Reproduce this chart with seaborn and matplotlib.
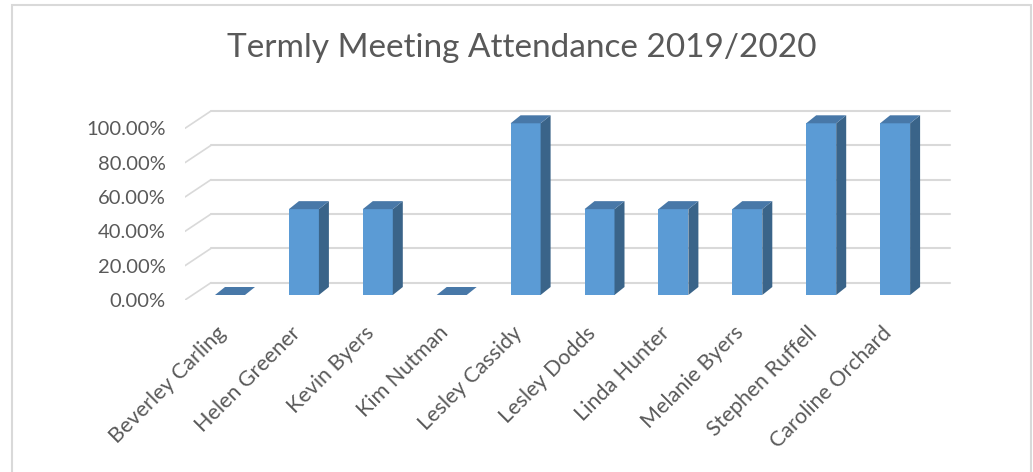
import matplotlib
matplotlib.use('Agg')
from matplotlib import pyplot as plt
from matplotlib.patches import Polygon, Rectangle
from matplotlib.transforms import ScaledTranslation
import seaborn as sns

# %% Data
names = ['Beverley Carling', 'Helen Greener', 'Kevin Byers', 'Kim Nutman',
         'Lesley Cassidy', 'Lesley Dodds', 'Linda Hunter', 'Melanie Byers',
         'Stephen Ruffell', 'Caroline Orchard']
attendance = [0.0, 0.5, 0.5, 0.0, 1.0, 0.5, 0.5, 0.5, 1.0, 1.0]
y_ticks = [0.0, 0.2, 0.4, 0.6, 0.8, 1.0]

# %% Style
sns.set_style('white')
plt.rcParams['font.family'] = ['Lato', 'DejaVu Sans']
TEXT = '#595959'
GRID = '#d9d9d9'
FRONT = '#5b9bd5'
SIDE = '#3a6489'
TOP = '#4878a8'

W, H = 1033, 472
fig = plt.figure(figsize=(W / 100, H / 100), dpi=100)

# axes placed in pixels: front-left corner of the floor at x=185, y=300
ax_l, ax_r, ax_t, ax_b = 185, 955, 105, 300
ax = fig.add_axes([ax_l / W, 1 - ax_b / H, (ax_r - ax_l) / W, (ax_b - ax_t) / H])

# pixel -> data scales
px_x = 1 / 73.9
px_y = 1 / 171.7
x0 = -(230 - ax_l) * px_x
y0 = -(ax_b - 295) * px_y

# %% Bars (seaborn resets limits, so set them afterwards)
sns.barplot(x=names, y=attendance, color=FRONT, saturation=1, width=30 * px_x,
            ax=ax, zorder=3, edgecolor='none')
dx, dy = 10 * px_x, 8 * px_y
for p in list(ax.patches):
    x, w, h = p.get_x(), p.get_width(), p.get_height()
    side = [(x + w, 0), (x + w + dx, dy), (x + w + dx, h + dy), (x + w, h)]
    top = [(x, h), (x + w, h), (x + w + dx, h + dy), (x + dx, h + dy)]
    ax.add_patch(Polygon(side, closed=True, facecolor=SIDE, edgecolor='none', zorder=3))
    ax.add_patch(Polygon(top, closed=True, facecolor=TOP, edgecolor='none', zorder=3))

ax.set_xlim(x0, x0 + (ax_r - ax_l) * px_x)
ax.set_ylim(y0, y0 + (ax_b - ax_t) * px_y)

# %% Back wall gridlines + floor diagonals
back_dx, back_dy = 26 * px_x, 17.3 * px_y
back_right = (950 - 230) * px_x
for v in y_ticks:
    ax.plot([x0, x0 + back_dx], [y0 + v, y0 + v + back_dy], color=GRID, lw=1.2, zorder=1)
    ax.plot([x0 + back_dx, back_right], [y0 + v + back_dy] * 2, color=GRID, lw=1.5, zorder=1)

# %% Axes text
ax.set_yticks([y0 + v for v in y_ticks], [f'{v * 100:.2f}%' for v in y_ticks])
ax.tick_params(axis='y', length=0, pad=14, labelsize=14.5, labelcolor=TEXT)
ax.set_xticks(range(len(names)), names)
ax.tick_params(axis='x', length=0, pad=2, labelsize=15.5, labelcolor=TEXT)
for lbl in ax.get_xticklabels():
    lbl.set_rotation(45)
    lbl.set_ha('right')
    lbl.set_va('center')
    lbl.set_rotation_mode('anchor')
    lbl.set_transform(lbl.get_transform() + ScaledTranslation(-0.07, -0.27, fig.dpi_scale_trans))
ax.set_xlabel('')
ax.set_ylabel('')
sns.despine(ax=ax, left=True, bottom=True)

fig.text(522 / W, 1 - 48 / H, 'Termly Meeting Attendance 2019/2020', ha='center',
         va='center', fontsize=24, color=TEXT)

# chart border
fig.add_artist(Rectangle((11.5 / W, -0.05), (1031 - 11.5) / W, 1 - 5 / H + 0.05,
                         transform=fig.transFigure, fill=False, edgecolor=GRID, lw=1.5))

fig.savefig('out.png', dpi=100)
